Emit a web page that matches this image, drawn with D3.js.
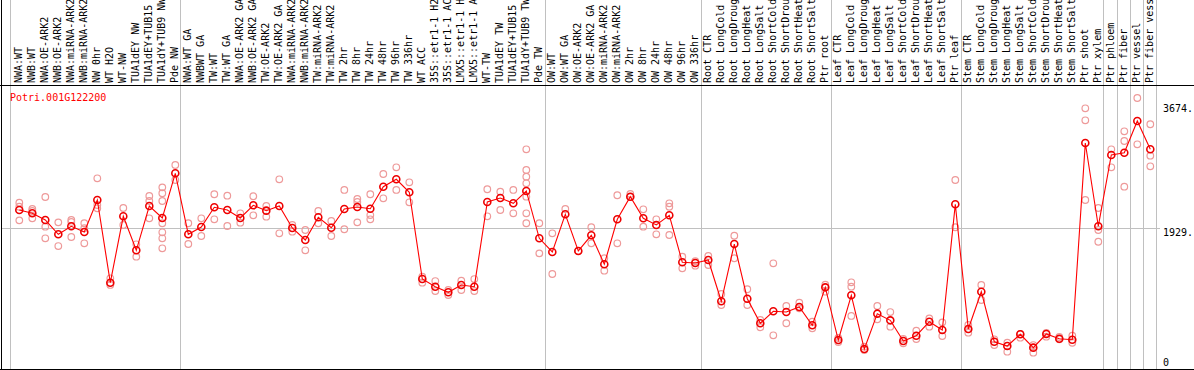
<!DOCTYPE html>
<html>
<head>
<meta charset="utf-8">
<script src="https://cdn.jsdelivr.net/npm/d3@7"></script>
<style>
  html, body { margin: 0; padding: 0; background: #fff; }
  svg { display: block; }
  text { font-family: "DejaVu Sans Mono", monospace; font-size: 10px; }
</style>
</head>
<body>
<svg id="chart" width="1194" height="370"></svg>
<script>
const geneId = "Potri.001G122200";

const categories = [
  "NWA:WT","NWB:WT","NWA:OE-ARK2","NWB:OE-ARK2","NWA:miRNA-ARK2","NWB:miRNA-ARK2","NW 0hr","WT H2O","WT-NW","TUA1dEY NW","TUA1dEY+TUB15","TUA1dY+TUB9 NW","Pde NW",
  "NWA:WT GA","NWBWT GA","TW:WT","TW:WT GA","NWA:OE-ARK2 GA","NWB:OE-ARK2 GA","TW:OE-ARK2","TW:OE-ARK2 GA","NWA:miRNA-ARK2","NWB:miRNA-ARK2","TW:miRNA-ARK2","TW:miRNA-ARK2","TW 2hr","TW 8hr","TW 24hr","TW 48hr","TW 96hr","TW 336hr","WT ACC","35S::etr1-1 H2O","35S::etr1-1 ACC","LMX5::etr1-1 H2O","LMX5::etr1-1 ACC","WT-TW","TUA1dEY TW","TUA1dEY+TUB15","TUA1dY+TUB9 TW","Pde TW",
  "OW:WT","OW:WT GA","OW:OE-ARK2","OW:OE-ARK2 GA","OW:miRNA-ARK2","OW:miRNA-ARK2","OW 2hr","OW 8hr","OW 24hr","OW 48hr","OW 96hr","OW 336hr",
  "Root CTR","Root LongCold","Root LongDrought","Root LongHeat","Root LongSalt","Root ShortCold","Root ShortDrought","Root ShortHeat","Root ShortSalt","Ptr root",
  "Leaf CTR","Leaf LongCold","Leaf LongDrought","Leaf LongHeat","Leaf LongSalt","Leaf ShortCold","Leaf ShortDrought","Leaf ShortHeat","Leaf ShortSalt","Ptr leaf",
  "Stem CTR","Stem LongCold","Stem LongDrought","Stem LongHeat","Stem LongSalt","Stem ShortCold","Stem ShortDrought","Stem ShortHeat","Stem ShortSalt","Ptr shoot","Ptr xylem",
  "Ptr phloem","Ptr fiber","Ptr vessel","Ptr fiber vessel"
];

// index of the last category of each group (a separator line follows it)
const groupEnds = [12, 40, 52, 62, 72, 83, 84, 85, 86, 87];

const meanValues = [
  2179,2133,2040,1840,1952,1872,2319,1164,2091,1616,
  2235,2068,2692,1840,1942,2217,2179,2068,2245,2170,
  2235,1928,1760,2077,1932,2193,2221,2197,2505,2608,
  2427,1215,1108,1030,1132,1108,2291,2347,2273,2445,
  1784,1593,2119,1607,1826,1421,2049,2365,2063,1970,
  2105,1449,1439,1481,904,1704,940,597,764,754,
  824,569,1099,363,988,237,731,638,349,423,
  619,503,2259,517,1038,339,279,443,256,447,
  381,367,3115,1952,2948,2980,3423,3027
];

const replicateValues = [
  [2281,2225,2035],[2193,2063,2165],[2361,1946,1784],[2007,1676],[2040,2012,1802],
  [1994,1924,1714],[2622,2249,2203],[1225,1132],[2207,1970],[1700,1527],
  [2375,2305,2063],[2496,2413,2305,1994,1868,1784,1644],[2808,2598],[1994,1704],[2063,1816],
  [2399,2049],[2379,1956],[2133,2002],[2371,2105],[2235,2086],
  [2608,1854],[1970,1876],[1900,1616],[2165,1994],[2026,1816],
  [2459,1910],[2333,2291,2007],[2399,2109,2049],[2682,2343],[2776,2459],
  [2566,2287],[1247,1164],[1187,1048],[1062,992],[1192,1062],
  [1215,1048],[2469,2091],[2435,2179],[2459,2133],[3027,2738,2645,2552,2365,2133,1994],
  [1994,1574],[1854,1285],[2193],[1607],[1938,1714],
  [1505,1331],[2385,1714],[2403,2361],[2189,1946],[2049,1840],
  [2273,2225,1830],[1527,1365],[1463,1401],[1537,1411],[1006,852],
  [1820,1505],[1072,852],[643,541],[1435,429],[838,597],
  [884,806],[619,527],[1136,1038],[391,335],[1169,1108,699],
  [270,224],[838,652],[754,549],[317,377],[493,377],
  [666,549],[610,419],[2598,1938],[573,465],[1132,922],
  [373,293],[325,200],[395,447],[186,293],[409,461],
  [373,405],[423,325],[3600,3432,2319],[2207,1900,1736],[3027,2776],
  [3279,3143,2505],[3744,3097],[3377,2938,2790]
];

const yTickValues = [0, 1929, 3674];
const yTickLabels = ["0", "1929.", "3674."];

// ---------------------------------------------------------------
const W = 1194, H = 370;
const headerBottom = 85.5;
const plotBottom = 369.5;

const svg = d3.select("#chart");

const x = d3.scaleLinear().domain([0, categories.length - 1]).range([19.3, 19.3 + 13 * (categories.length - 1)]);
const y = d3.scaleLinear().domain([0, 3674]).range([366, 103]);

const gGrid = svg.append("g");
// vertical separators (full height)
const sepXs = [Math.round(x(0) - 9.3) + 0.5].concat(groupEnds.map(i => Math.round(x(i) + 5.2) + 0.5));
gGrid.selectAll("line.sep").data(sepXs).join("line")
  .attr("x1", d => d).attr("x2", d => d)
  .attr("y1", 0).attr("y2", plotBottom)
  .attr("stroke", "#c0c0c0").attr("stroke-width", 1);

// horizontal grid at middle tick
gGrid.append("line")
  .attr("x1", 2).attr("x2", Math.round(x(87) + 5.2) + 4)
  .attr("y1", Math.round(y(1929)) + 0.5).attr("y2", Math.round(y(1929)) + 0.5)
  .attr("stroke", "#c0c0c0").attr("stroke-width", 1);

// frame lines
svg.append("line").attr("x1", 0).attr("x2", W).attr("y1", headerBottom).attr("y2", headerBottom)
  .attr("stroke", "#000").attr("stroke-width", 1);
svg.append("line").attr("x1", 0).attr("x2", W).attr("y1", plotBottom).attr("y2", plotBottom)
  .attr("stroke", "#000").attr("stroke-width", 1);
svg.append("line").attr("x1", 1.5).attr("x2", 1.5).attr("y1", 0).attr("y2", H)
  .attr("stroke", "#000").attr("stroke-width", 1);

// header labels
svg.append("g").selectAll("text").data(categories).join("text")
  .attr("transform", (d, i) => `translate(${x(i) + 2.8},83) rotate(-90)`)
  .attr("text-anchor", "start")
  .attr("fill", "#000")
  .text(d => d);

// y tick labels
svg.append("g").selectAll("text").data(yTickValues).join("text")
  .attr("x", 1163)
  .attr("y", d => Math.min(y(d) + 8.5, 365.5))
  .attr("fill", "#000")
  .text((d, i) => yTickLabels[i]);

// gene title
svg.append("text").attr("x", 10).attr("y", 100.5).attr("fill", "#ff0000").text(geneId);

// replicates
const repPts = [];
replicateValues.forEach((arr, i) => arr.forEach(v => repPts.push({ i, v })));
svg.append("g").selectAll("circle").data(repPts).join("circle")
  .attr("cx", d => x(d.i)).attr("cy", d => y(d.v)).attr("r", 3.3)
  .attr("fill", "none").attr("stroke", "#ee9a9a").attr("stroke-width", 1.2);

// mean line
const line = d3.line().x((d, i) => x(i)).y(d => y(d));
svg.append("path").datum(meanValues).attr("d", line)
  .attr("fill", "none").attr("stroke", "#ff0000").attr("stroke-width", 1.1);

// mean markers
svg.append("g").selectAll("circle").data(meanValues).join("circle")
  .attr("cx", (d, i) => x(i)).attr("cy", d => y(d)).attr("r", 3.5)
  .attr("fill", "none").attr("stroke", "#ee0000").attr("stroke-width", 1.6);
</script>
</body>
</html>
